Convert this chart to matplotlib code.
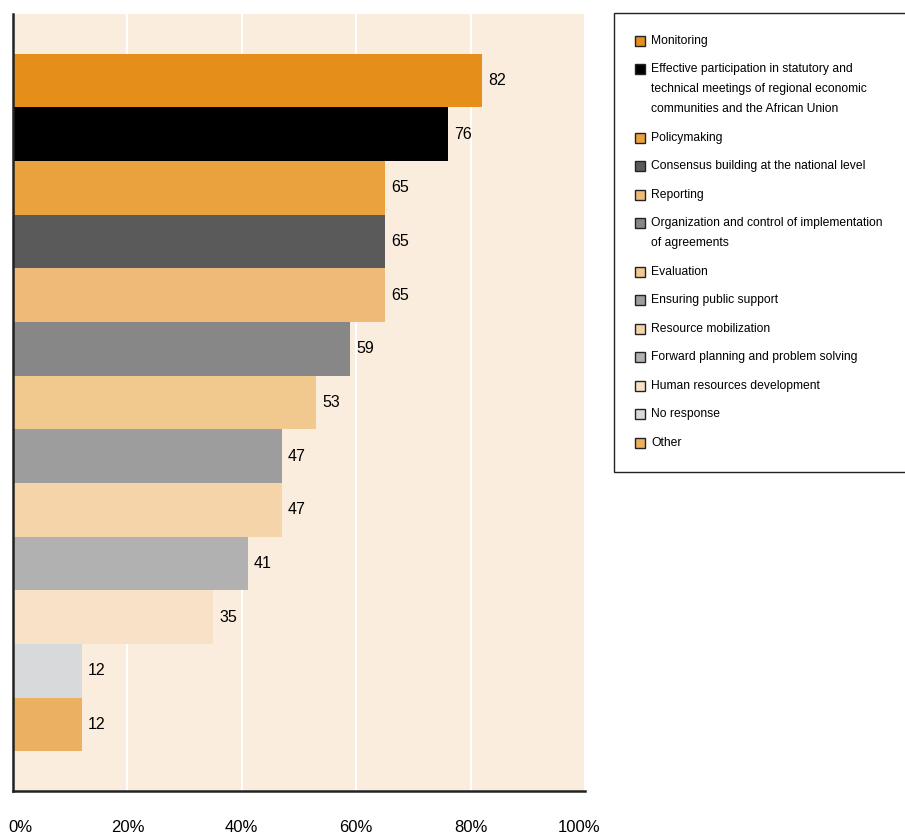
import matplotlib.pyplot as plt
import matplotlib.transforms as mtransforms
from matplotlib.patches import Rectangle

plt.rcParams['font.family'] = ['Liberation Sans', 'DejaVu Sans']

categories = ['Monitoring',
              'Effective participation in statutory and\ntechnical meetings of regional economic\ncommunities and the African Union',
              'Policymaking',
              'Consensus building at the national level',
              'Reporting',
              'Organization and control of implementation\nof agreements',
              'Evaluation',
              'Ensuring public support',
              'Resource mobilization',
              'Forward planning and problem solving',
              'Human resources development',
              'No response',
              'Other']
values = [82, 76, 65, 65, 65, 59, 53, 47, 47, 41, 35, 12, 12]
colors = ['#E58E1A', '#000000', '#E9A23E', '#5A5A5B', '#EFBA78', '#878787',
          '#F1C88E', '#9D9D9D', '#F4D4A8', '#B1B1B1', '#F8E2C7', '#D8D9DA', '#ECB061']
xticks = [0, 20, 40, 60, 80, 100]

W, H = 905, 834
fig = plt.figure(figsize=(W / 100, H / 100), dpi=100)
ax = fig.add_axes([13/W, 1-791/H, (585-13)/W, (791-14)/H])
ax.set_facecolor('#FAEDDD')

y = list(range(len(values)))
ax.barh(y, values, height=1.0, color=colors, zorder=2)
for yi, v in zip(y, values):
    ax.text(v + 1.05, yi, str(v), va='center', ha='left', fontsize=11.5, zorder=3)

ax.set_xlim(0, 100)
ax.set_ylim(len(values) - 0.5 + 0.74, -0.5 - 0.74)
ax.set_xticks(xticks)
ax.set_xticklabels([f'{t}%' for t in xticks], fontsize=12)
ax.tick_params(axis='x', length=0, pad=21)
labs = ax.get_xticklabels()
labs[0].set_transform(labs[0].get_transform() + mtransforms.ScaledTranslation(7/100, 0, fig.dpi_scale_trans))
labs[-1].set_transform(labs[-1].get_transform() + mtransforms.ScaledTranslation(-6/100, 0, fig.dpi_scale_trans))
ax.set_yticks([])
ax.grid(axis='x', color='white', linewidth=1.5, zorder=1)
ax.set_axisbelow(True)
for s in ['top', 'right']:
    ax.spines[s].set_visible(False)
for s in ['left', 'bottom']:
    ax.spines[s].set_color('#222222')
    ax.spines[s].set_linewidth(1.8)

# legend box drawn by hand so the swatch sits on the first line of each label
fig.patches.append(Rectangle((614/W, 1-472/H), (W+10-614)/W, (472-13)/H,
                             transform=fig.transFigure, facecolor='white',
                             edgecolor='#222222', linewidth=1.0))
ypos = 40.7
for lab, c in zip(categories, colors):
    fig.patches.append(Rectangle((635/W, 1-(ypos+5)/H), 10/W, 10/H,
                                 transform=fig.transFigure, facecolor=c,
                                 edgecolor='#222222', linewidth=1.0))
    lines = lab.split('\n')
    for i, line in enumerate(lines):
        fig.text(651/W, 1-(ypos + 20*i)/H, line, fontsize=8.7, va='center', ha='left')
    ypos += 28.5 + 20 * (len(lines) - 1)

fig.savefig('out.png', dpi=100)
